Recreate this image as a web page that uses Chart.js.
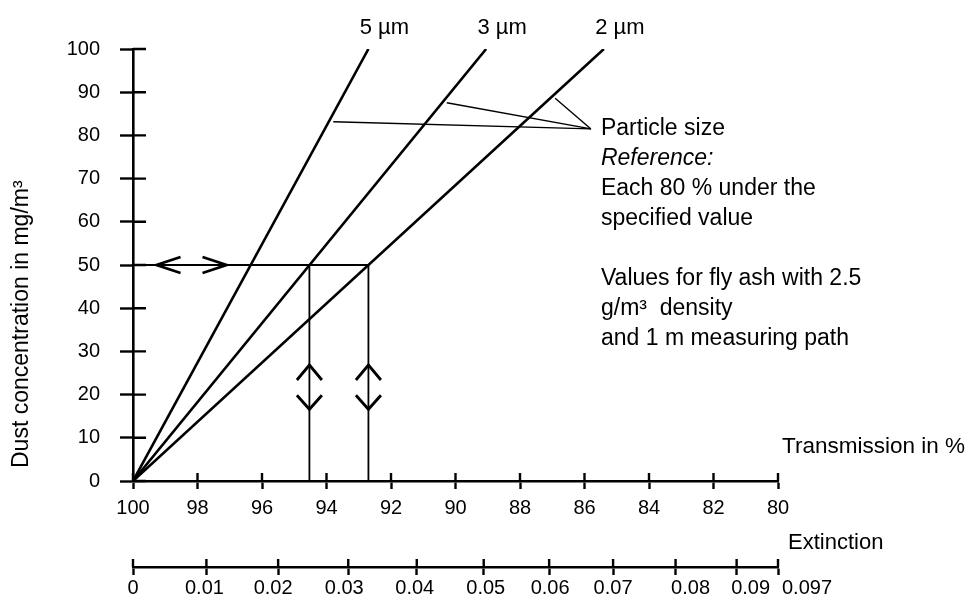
<!DOCTYPE html>
<html>
<head>
<meta charset="utf-8">
<script src="https://cdn.jsdelivr.net/npm/chart.js@4.4.0/dist/chart.umd.min.js"></script>
<style>
html,body{margin:0;padding:0;background:#fff;}
#wrap{width:970px;height:600px;position:relative;}
</style>
</head>
<body>
<div id="wrap"><canvas id="c" width="970" height="600"></canvas></div>
<script>
// ---- data ----
const sizeLabels = ['5 µm', '3 µm', '2 µm'];
const origin = { x: 100, y: 0 };                 // 100 % transmission, 0 mg/m³
const transmissionAtTop = [92.7, 89.05, 85.4];   // transmission % where each line reaches 100 mg/m³
const concentrationTop = 100;

const extinctionValues = [0, 0.01, 0.02, 0.03, 0.04, 0.05, 0.06, 0.07, 0.08, 0.09, 0.097];
const extinctionLabels = ['0', '0.01', '0.02', '0.03', '0.04', '0.05', '0.06', '0.07', '0.08', '0.09', '0.097'];

const guideConcentration = 50;                   // example reading at 50 mg/m³
const guideTransmission = [94.53, 92.7];         // 3 µm and 2 µm lines at 50 mg/m³

const pointerStarts = [                          // where the "Particle size" pointers touch the lines
  { x: 93.79, y: 83.17 },
  { x: 90.27, y: 87.57 },
  { x: 86.91, y: 88.59 }
];
const pointerEnd = { x: 85.8, y: 81.5 };

const hArrowTips = [ { x: 99.27, y: 50, dir: 'left' }, { x: 97.10, y: 50, dir: 'right' } ];
const vArrowTips = [
  { x: 94.53, y: 26.85, dir: 'up' }, { x: 94.53, y: 16.6, dir: 'down' },
  { x: 92.7,  y: 26.85, dir: 'up' }, { x: 92.7,  y: 16.6, dir: 'down' }
];

const noteLines = [
  { text: 'Particle size', italic: false },
  { text: 'Reference:', italic: true },
  { text: 'Each 80 % under the', italic: false },
  { text: 'specified value', italic: false },
  { text: '', italic: false },
  { text: 'Values for fly ash with 2.5', italic: false },
  { text: 'g/m³  density', italic: false },
  { text: 'and 1 m measuring path', italic: false }
];
const yTitle = 'Dust concentration in mg/m³';
const xTitle = 'Transmission in %';
const x2Title = 'Extinction';

// ---- styles ----
const FONT = '"Liberation Sans", Arial, sans-serif';
const BLACK = '#000';
const extinctionLabelShift = [0, -2, -5, -4, -2, 2, 1, 0, 15, 14, 29]; // horizontal nudges (px) as in the print

const datasets = [];
sizeLabels.forEach((lab, i) => {
  datasets.push({
    label: lab, role: 'size',
    data: [origin, { x: transmissionAtTop[i], y: concentrationTop }],
    borderColor: BLACK, borderWidth: 2.6, showLine: true, pointRadius: 0
  });
});
datasets.push({
  label: 'guide-h', data: [{ x: origin.x, y: guideConcentration }, { x: guideTransmission[1], y: guideConcentration }],
  borderColor: BLACK, borderWidth: 2, showLine: true, pointRadius: 0
});
guideTransmission.forEach((t, i) => {
  datasets.push({
    label: 'guide-v' + i, data: [{ x: t, y: guideConcentration }, { x: t, y: 0 }],
    borderColor: BLACK, borderWidth: 1.8, showLine: true, pointRadius: 0
  });
});
pointerStarts.forEach((p, i) => {
  datasets.push({
    label: 'pointer' + i, data: [p, pointerEnd],
    borderColor: BLACK, borderWidth: 1.4, showLine: true, pointRadius: 0
  });
});

const annotPlugin = {
  id: 'annot',
  afterDraw(chart) {
    const ctx = chart.ctx;
    const xs = chart.scales.x, ys = chart.scales.y, x2 = chart.scales.x2;
    ctx.save();
    ctx.strokeStyle = BLACK; ctx.fillStyle = BLACK;
    // inner halves of the axis ticks (ticks cross the axis lines)
    ctx.lineWidth = 2.4;
    ctx.beginPath();
    xs.ticks.forEach((t, i) => { const px = xs.getPixelForTick(i); ctx.moveTo(px, xs.top - 8); ctx.lineTo(px, xs.top); });
    x2.ticks.forEach((t, i) => { const px = x2.getPixelForTick(i); ctx.moveTo(px, x2.top - 8); ctx.lineTo(px, x2.top); });
    ys.ticks.forEach((t, i) => { const py = ys.getPixelForTick(i); ctx.moveTo(ys.right, py); ctx.lineTo(ys.right + 13, py); });
    ctx.stroke();

    // extinction tick labels
    ctx.font = '20px ' + FONT; ctx.textAlign = 'center'; ctx.textBaseline = 'middle';
    x2.ticks.forEach((t, i) => {
      const px = x2.getPixelForTick(i);
      ctx.fillText(extinctionLabels[i], px + extinctionLabelShift[i], x2.top + 21);
    });

    // chevron arrows
    ctx.lineWidth = 2.8; ctx.lineJoin = 'miter';
    hArrowTips.forEach(a => {
      const px = xs.getPixelForValue(a.x), py = ys.getPixelForValue(a.y);
      const d = a.dir === 'left' ? 24 : -24;
      ctx.beginPath(); ctx.moveTo(px + d, py - 8); ctx.lineTo(px, py); ctx.lineTo(px + d, py + 8); ctx.stroke();
    });
    vArrowTips.forEach(a => {
      const px = xs.getPixelForValue(a.x), py = ys.getPixelForValue(a.y);
      const d = a.dir === 'up' ? 15 : -14;
      ctx.beginPath(); ctx.moveTo(px - 12.5, py + d); ctx.lineTo(px, py); ctx.lineTo(px + 12.5, py + d); ctx.stroke();
    });

    // particle size labels at the top of each line
    ctx.font = '22px ' + FONT; ctx.textAlign = 'center'; ctx.textBaseline = 'middle';
    chart.data.datasets.forEach((ds, i) => {
      if (ds.role !== 'size') return;
      const el = chart.getDatasetMeta(i).data[1];
      ctx.fillText(ds.label, el.x + 16, el.y - 21);
    });

    // notes
    const nx = xs.getPixelForValue(pointerEnd.x) + 10;
    let ny = ys.getPixelForValue(pointerEnd.y);
    ctx.textAlign = 'left';
    noteLines.forEach(l => {
      ctx.font = (l.italic ? 'italic ' : '') + '23px ' + FONT;
      ctx.fillText(l.text, nx, ny);
      ny += 30;
    });

    // axis captions on the right
    ctx.font = '22.5px ' + FONT;
    ctx.fillText(xTitle, xs.right + 4, xs.top - 34);
    ctx.font = '22px ' + FONT;
    ctx.fillText(x2Title, x2.right + 10, x2.top - 24);

    // y-axis title (rotated)
    ctx.font = '23px ' + FONT;
    ctx.translate(22, ys.bottom - 13);
    ctx.rotate(-Math.PI / 2);
    ctx.textAlign = 'left';
    ctx.fillText(yTitle, 0, 0);
    ctx.restore();
  }
};

const tickFont = { family: FONT, size: 20 };
const axisGrid = (len) => ({ display: true, drawOnChartArea: false, drawTicks: true, tickLength: len, tickWidth: 2.4, tickColor: BLACK, color: BLACK });
const axisBorder = { display: true, color: BLACK, width: 2.6 };

new Chart(document.getElementById('c'), {
  type: 'scatter',
  data: { datasets },
  options: {
    responsive: false, animation: false, maintainAspectRatio: false,
    layout: { padding: { left: 0, right: 192, top: 49, bottom: 0 } },
    plugins: { legend: { display: false }, tooltip: { enabled: false } },
    scales: {
      x: {
        type: 'linear', position: 'bottom', reverse: true, min: 80, max: 100,
        ticks: { stepSize: 2, font: tickFont, color: BLACK, padding: 7, maxRotation: 0, autoSkip: false },
        grid: axisGrid(8), border: axisBorder,
        afterFit: s => { s.height = 86; }
      },
      x2: {
        type: 'linear', position: 'bottom', reverse: true, min: 80, max: 100,
        afterBuildTicks: s => { s.ticks = extinctionValues.map(e => ({ value: Math.max(80, 100 * Math.pow(10, -e)) })); },
        ticks: { display: false, autoSkip: false, callback: (v, i) => extinctionLabels[i] },
        grid: axisGrid(8), border: axisBorder,
        afterFit: s => { s.height = 33; }
      },
      y: {
        type: 'linear', position: 'left', min: 0, max: 100,
        ticks: { stepSize: 10, font: tickFont, color: BLACK, padding: 20 },
        grid: axisGrid(13), border: axisBorder,
        title: { display: false, text: yTitle },
        afterFit: s => { s.width = 133; }
      }
    }
  },
  plugins: [annotPlugin]
});
</script>
</body>
</html>
